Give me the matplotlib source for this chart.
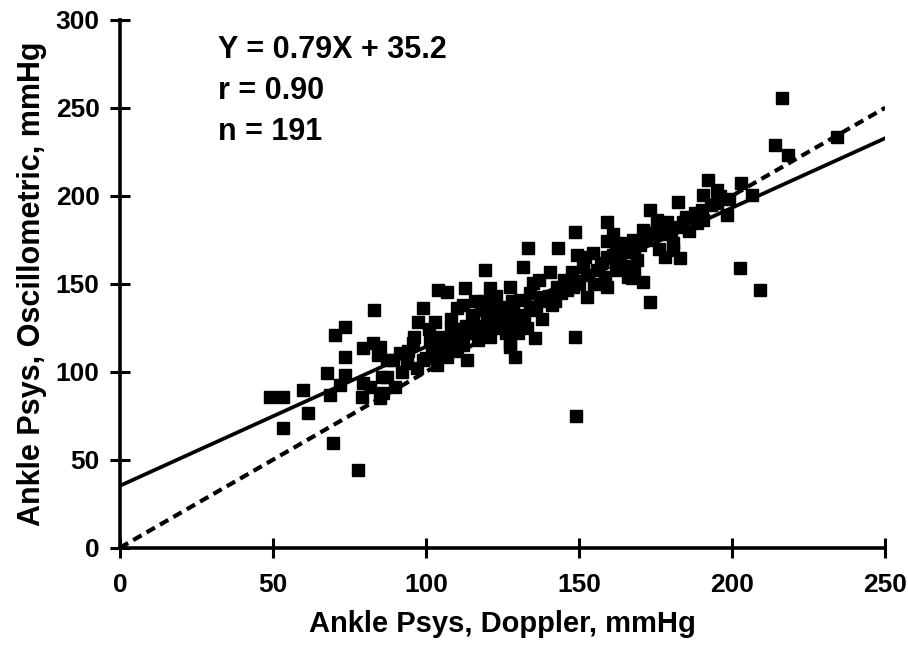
import matplotlib
matplotlib.use("Agg")
import matplotlib.pyplot as plt
import numpy as np

plt.rcParams['font.family'] = ['Liberation Sans', 'DejaVu Sans']
plt.rcParams['font.weight'] = 'bold'

# Doppler (x) and oscillometric (y) ankle systolic pressures, mmHg
doppler = [
    83, 73.5, 70.3, 73.5, 67.6, 72, 68.6, 73.5, 59.8, 49, 53.3, 61.4, 53.3, 69.6, 77.8,
    79.4, 82.7, 84.3, 79.4, 81.7, 85, 79, 85.6, 87.3,
    119.3, 104, 107, 112.7, 121, 99, 110, 97.4, 104.6, 101.3, 111, 115.4, 120, 124, 113.4,
    95.8, 91.5, 89.2, 93.8, 99, 103.6, 106.9, 87.3, 90, 86, 85,
    159, 148.7, 133.3, 143, 159, 149.3, 154.6, 161, 131.7, 140.5, 147.7, 151.3, 159, 152.6,
    127.5, 135, 137.3, 130.7, 142.8, 146, 125, 128.4, 134, 125.8, 127.5, 135.6, 148.7, 166,
    127.5, 129, 149, 121,
    192, 203, 182.4, 173, 190.5, 195, 198.4, 188.6, 175.5, 178.8, 171, 183, 167.6, 174,
    180.7, 163.4, 159, 163.4, 169, 180.7, 183, 158.5, 167.3, 171, 173, 202.6, 185,
    216.3, 214, 218.3, 234.3, 206.5, 195, 190.5, 209,
    102, 105, 108, 110, 112, 114, 116, 118, 120, 122, 117, 113, 108, 106, 104, 110, 115, 118,
    122, 124, 126, 119, 123, 121, 116, 112, 108, 101, 96, 94, 92, 97, 100, 103,
    130, 132, 136, 138, 140, 144, 141, 138, 133, 130, 145, 150, 153, 156, 157, 155, 148, 142,
    134, 137, 128, 152,
    162, 165, 168, 170, 172, 176, 178, 180, 184, 186, 188, 190, 193, 196, 199, 165, 168, 162,
    176, 178, 161,
]
oscillometric = [
    135, 125.6, 121, 108.5, 99.4, 92.6, 87, 98, 89.8, 85.8, 85.8, 76.7, 68, 59.7, 44.3,
    113.6, 116.5, 109.7, 93.8, 91.5, 85.2, 85.8, 97, 106.8,
    158, 146.6, 145.5, 147.7, 147.7, 136, 136, 128.4, 120, 118, 124, 129.5, 131, 135, 106.8,
    116.5, 110.8, 106.8, 105, 106.8, 104, 108.5, 97, 91.5, 88, 114,
    185, 179.5, 170.5, 170.5, 174, 166.5, 167.6, 166.5, 159.7, 156.8, 156.8, 159.7, 148.3, 142.6,
    148.3, 150.6, 142.6, 141, 148.3, 146.6, 137, 133.5, 137, 129.5, 116.5, 119.3, 120, 154,
    114, 108.5, 75, 120,
    209, 207, 196.6, 192, 200.6, 196, 189, 184.7, 186, 185, 180.7, 182, 175, 179,
    173.3, 173.3, 165, 163.6, 163.6, 169, 164.8, 154, 153.4, 151, 139.8, 159, 188,
    255.7, 229, 223.3, 233.5, 200.6, 203.4, 186, 146.6,
    112, 115, 118, 120, 115, 122, 125, 122, 126, 128, 118, 126, 125, 112, 110, 112, 132, 135,
    132, 125, 122, 140, 143, 138, 140, 138, 130, 124, 120, 112, 100, 102, 108, 128,
    128, 132, 135, 140, 143, 145, 138, 130, 125, 122, 152, 150, 155, 158, 162, 150, 148, 140,
    145, 152, 140, 165,
    170, 168, 170, 172, 175, 178, 180, 178, 185, 180, 190, 192, 195, 200, 198, 160, 158, 158,
    170, 165, 178,
]

slope, intercept = 0.79, 35.2
line_x = [0, 250]
x_ticks = [0, 50, 100, 150, 200, 250]
y_ticks = [0, 50, 100, 150, 200, 250, 300]
annotation = ["Y = 0.79X + 35.2", "r = 0.90", "n = 191"]

fig = plt.figure(figsize=(9.08, 6.56), dpi=100)
ax = fig.add_axes([0.132, 0.165, 0.843, 0.805])

ax.plot(doppler, oscillometric, linestyle='none', marker='s', markersize=9,
        color='black', zorder=3)
lx = np.array(line_x, dtype=float)
ax.plot(lx, slope * lx + intercept, color='black', linewidth=2.7, zorder=2)
ax.plot(lx, lx, color='black', linewidth=3.0, linestyle=(0, (2.3, 1.4)), zorder=2)

ax.set_xlim(0, 250)
ax.set_ylim(0, 300)
ax.set_xticks(x_ticks)
ax.set_yticks(y_ticks)
for s in ['top', 'right']:
    ax.spines[s].set_visible(False)
for s in ['left', 'bottom']:
    ax.spines[s].set_linewidth(2.6)
ax.tick_params(direction='inout', length=15, width=2.2, labelsize=19)
ax.tick_params(axis='x', pad=11)
ax.tick_params(axis='y', pad=7)
for lab in ax.get_xticklabels() + ax.get_yticklabels():
    lab.set_fontweight('bold')

ax.set_xlabel("Ankle Psys, Doppler, mmHg", fontsize=21, fontweight='bold', labelpad=9)
ax.set_ylabel("Ankle Psys, Oscillometric, mmHg", fontsize=22, fontweight='bold', labelpad=6)

for i, t in enumerate(annotation):
    ax.text(32, 283 - i * 23.3, t, fontsize=22, fontweight='bold', va='center', ha='left')

fig.savefig("out.png", dpi=100)
